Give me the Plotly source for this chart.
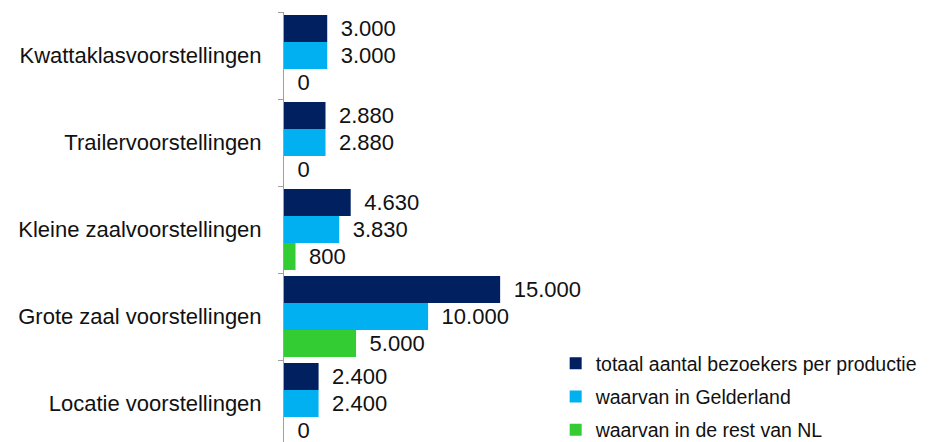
import plotly.graph_objects as go

categories = [
    "Kwattaklasvoorstellingen",
    "Trailervoorstellingen",
    "Kleine zaalvoorstellingen",
    "Grote zaal voorstellingen",
    "Locatie voorstellingen",
]
series_names = [
    "totaal aantal bezoekers per productie",
    "waarvan in Gelderland",
    "waarvan in de rest van NL",
]
totaal = [3000, 2880, 4630, 15000, 2400]
gelderland = [3000, 2880, 3830, 10000, 2400]
rest_nl = [0, 0, 800, 5000, 0]
colors = ["#002060", "#00B0F0", "#33CC33"]

FONT = "Liberation Sans, Arial, sans-serif"

fig = go.Figure()
for i, (name, vals) in enumerate(zip(series_names, [totaal, gelderland, rest_nl])):
    fig.add_trace(go.Bar(
        y=categories, x=vals, name=name, orientation="h",
        marker=dict(color=colors[i], line=dict(width=0)),
        texttemplate="\u00a0\u2009%{x:,}", textposition="outside",
        textfont=dict(family=FONT, size=22, color="#111111"),
        constraintext="none", cliponaxis=False,
        legendgroup=f"g{i}",
    ))

fig.update_layout(
    width=930, height=442,
    margin=dict(l=284, r=12, t=12, b=0, autoexpand=False),
    paper_bgcolor="white", plot_bgcolor="white",
    barmode="group", bargap=0.07, bargroupgap=0,
    separators=",.",
    showlegend=True,
    legend=dict(
        x=0.4285, y=0.228, xanchor="left", yanchor="top",
        font=dict(family=FONT, size=19.5, color="#111111"),
        bgcolor="rgba(0,0,0,0)", tracegroupgap=5,
    ),
    xaxis=dict(range=[0, 44000], visible=False, automargin=False),
    yaxis=dict(
        type="category", categoryorder="array", categoryarray=categories,
        range=[4.4425, -0.5], automargin=False,
        showline=True, linecolor="#A0A0A0", linewidth=1,
        ticks="outside", tickson="boundaries", ticklen=5, tickcolor="#A0A0A0",
        ticklabelstandoff=17,
        tickfont=dict(family=FONT, size=22, color="#111111"),
        showgrid=False, zeroline=False,
    ),
)

fig.write_html(
    "out.html",
    config={"displayModeBar": False},
    post_script="document.body.style.margin='0';document.body.style.overflow='hidden';",
)
